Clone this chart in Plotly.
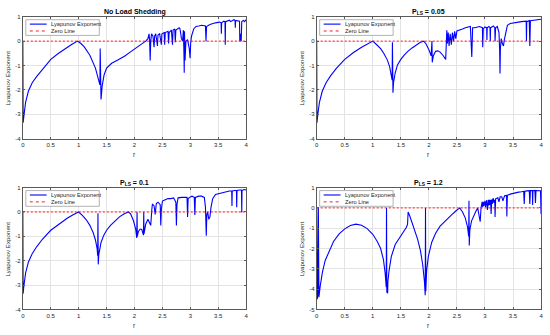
import plotly.graph_objects as go

# ---------------- data ----------------
r_nls = [0, 0.005, 0.02, 0.05, 0.1, 0.17, 0.25, 0.34, 0.5, 0.64, 0.76, 0.88, 0.98, 1.04, 1.1, 1.2, 1.3, 1.35,
         1.38, 1.385, 1.39, 1.40, 1.42, 1.456, 1.5, 1.59, 1.7, 1.82, 1.94, 2.06, 2.18, 2.2,
         2.24, 2.26, 2.27, 2.28, 2.29, 2.305, 2.33, 2.35, 2.36, 2.38, 2.41, 2.42, 2.45, 2.48, 2.49, 2.53, 2.54,
         2.55, 2.6, 2.61, 2.62, 2.66, 2.68, 2.69, 2.72, 2.73, 2.74, 2.8, 2.815, 2.84, 2.86, 2.875, 2.885, 2.89,
         2.895, 2.905, 2.92, 2.95, 2.98, 2.995, 3.005, 3.02, 3.06, 3.1, 3.15, 3.2, 3.27, 3.28, 3.29, 3.35, 3.45,
         3.52, 3.55, 3.555, 3.56, 3.6, 3.62, 3.625, 3.63, 3.7, 3.72, 3.78, 3.8, 3.805, 3.81, 3.88, 3.885, 3.9,
         3.91, 3.92, 3.95, 3.97, 4.0]
lam_nls = [0, -3.35, -3.05, -2.5, -2.05, -1.7, -1.45, -1.18, -0.75, -0.5, -0.3, -0.13, 0.0, -0.1, -0.24, -0.58,
           -1.11, -1.5, -1.8, -0.3, -2.0, -2.4, -1.85, -1.38, -1.11, -0.91, -0.78, -0.62, -0.42, -0.24, -0.04, 0.0,
           0.1, 0.3, 0.05, -0.8, 0.0, 0.3, 0.2, -0.25, 0.2, 0.3, -0.2, 0.25, 0.3, -0.15, 0.3, 0.35, -0.15,
           0.35, 0.4, -0.1, 0.35, 0.45, -0.15, 0.45, 0.5, -0.05, 0.45, 0.55, 0.5, 0.1, 0.0, 0.45, -0.5, -1.3,
           0.4, -0.8, 0.0, 0.05, -0.3, -0.7, -0.1, 0.2, 0.5, 0.6, 0.62, 0.65, 0.62, 0.0, 0.6, 0.68, 0.75,
           0.78, 0.75, 0.3, 0.75, 0.82, 0.8, -0.15, 0.8, 0.86, 0.8, 0.88, 0.85, 0.55, 0.85, 0.82, 0.0, 0.3,
           0.0, 0.8, 0.85, 0.8, 0.88]

r_p005 = [0, 0.005, 0.02, 0.05, 0.1, 0.17, 0.25, 0.35, 0.5, 0.65, 0.8, 0.9, 1.0, 1.07, 1.14, 1.2, 1.26, 1.3,
          1.33, 1.345, 1.35, 1.355, 1.36, 1.37, 1.4, 1.44, 1.5, 1.56, 1.62, 1.7, 1.79, 1.85, 1.91, 1.95, 2.0,
          2.04, 2.055, 2.06, 2.08, 2.12, 2.16, 2.2, 2.25, 2.3, 2.32, 2.33, 2.345, 2.36, 2.38, 2.4, 2.42, 2.44,
          2.46, 2.48, 2.5, 2.55, 2.6, 2.65, 2.7, 2.74, 2.765, 2.78, 2.82, 2.86, 2.9, 2.955, 2.96, 2.97, 3.0,
          3.03, 3.035, 3.04, 3.07, 3.09, 3.095, 3.1, 3.15, 3.175, 3.18, 3.19, 3.22, 3.25, 3.262, 3.268, 3.275,
          3.29, 3.31, 3.33, 3.345, 3.36, 3.38, 3.4, 3.45, 3.5, 3.55, 3.6, 3.65, 3.7, 3.735, 3.74, 3.745, 3.79,
          3.8, 3.81, 3.85, 3.9, 3.95, 4.0]
lam_p005 = [0, -3.35, -3.0, -2.5, -2.05, -1.7, -1.42, -1.12, -0.75, -0.48, -0.25, -0.11, 0.0, -0.15, -0.31,
            -0.52, -0.78, -1.05, -1.35, -1.6, -0.05, -1.9, -2.12, -1.7, -1.3, -0.98, -0.75, -0.58, -0.43, -0.28,
            -0.12, -0.05, 0.0, -0.12, -0.35, -0.6, 0.0, -0.87, -0.6, -0.42, -0.4, -0.45, -0.58, -0.75, 0.45,
            -0.1, 0.35, -0.2, 0.3, -0.15, 0.35, 0.0, 0.4, 0.1, 0.42, 0.45, 0.5, 0.55, 0.58, 0.6, -0.65, 0.55,
            0.55, 0.58, 0.6, 0.55, -0.25, 0.5, 0.58, 0.55, 0.05, 0.55, 0.6, 0.55, 0.0, 0.55, 0.62, 0.55, 0.0,
            0.55, 0.6, 0.35, -0.4, -1.33, -0.3, 0.1, -0.1, -0.2, 0.05, 0.25, 0.5, 0.65, 0.72, 0.75, 0.76, 0.78,
            0.8, 0.8, 0.82, 0.0, 0.8, 0.84, -0.2, 0.84, 0.85, 0.88, 0.9, 0.9]

r_p01 = [0, 0.005, 0.02, 0.05, 0.1, 0.17, 0.25, 0.35, 0.5, 0.65, 0.8, 0.9, 1.0, 1.07, 1.14, 1.2, 1.26, 1.3,
         1.33, 1.34, 1.345, 1.35, 1.36, 1.4, 1.45, 1.5, 1.57, 1.65, 1.73, 1.81, 1.89, 1.93, 1.98, 2.02, 2.04,
         2.045, 2.05, 2.07, 2.1, 2.13, 2.16, 2.165, 2.17, 2.2, 2.24, 2.27, 2.29, 2.31, 2.32, 2.35, 2.37, 2.39,
         2.42, 2.46, 2.47, 2.48, 2.5, 2.55, 2.6, 2.65, 2.7, 2.74, 2.75, 2.76, 2.78, 2.85, 2.9, 2.94, 2.95,
         2.96, 3.0, 3.03, 3.07, 3.08, 3.09, 3.15, 3.2, 3.25, 3.27, 3.285, 3.295, 3.31, 3.33, 3.35, 3.37, 3.4,
         3.45, 3.5, 3.55, 3.6, 3.65, 3.7, 3.74, 3.745, 3.75, 3.8, 3.825, 3.83, 3.835, 3.88, 3.915, 3.92,
         3.925, 3.96, 4.0]
lam_p01 = [0, -3.35, -3.0, -2.5, -2.05, -1.7, -1.42, -1.12, -0.75, -0.48, -0.25, -0.11, 0.0, -0.15, -0.33,
           -0.55, -0.85, -1.15, -1.5, -1.8, -0.05, -2.15, -1.75, -1.25, -0.95, -0.75, -0.55, -0.37, -0.2, -0.08,
           0.0, -0.08, -0.35, -0.7, -1.07, 0.0, -1.0, -0.8, -0.7, -0.72, -0.95, 0.0, -0.9, -0.5, -0.3, -0.45,
           -0.55, 0.1, 0.33, 0.25, -0.1, 0.35, 0.4, 0.3, -0.55, 0.1, 0.45, 0.5, 0.55, 0.55, 0.58, 0.4, -0.55,
           0.3, 0.58, 0.6, 0.6, 0.6, -0.2, 0.55, 0.62, 0.65, 0.6, -0.12, 0.6, 0.65, 0.65, 0.6, 0.2, -0.97,
           -0.1, 0.0, -0.3, -0.2, 0.2, 0.55, 0.72, 0.75, 0.75, 0.8, 0.82, 0.86, 0.86, 0.25, 0.86, 0.88, 0.88,
           0.19, 0.88, 0.9, 0.9, -0.02, 0.88, 0.92, 0.9]

r_p12 = [0, 0.01, 0.02, 0.03, 0.04, 0.06, 0.1, 0.15, 0.2, 0.3, 0.4, 0.5, 0.6, 0.7, 0.8, 0.9, 1.0, 1.08, 1.14,
         1.19, 1.22, 1.24, 1.245, 1.25, 1.265, 1.27, 1.29, 1.33, 1.4, 1.5, 1.56, 1.6, 1.62, 1.63, 1.66, 1.7,
         1.75, 1.8, 1.85, 1.89, 1.92, 1.935, 1.94, 1.945, 1.96, 1.99, 2.05, 2.12, 2.2, 2.3, 2.4, 2.48, 2.55,
         2.6, 2.65, 2.69, 2.71, 2.715, 2.72, 2.73, 2.76, 2.8, 2.84, 2.87, 2.9, 2.915, 2.93, 2.95, 2.96, 2.97,
         2.98, 2.99, 3.0, 3.01, 3.02, 3.03, 3.045, 3.06, 3.07, 3.08, 3.09, 3.1, 3.11, 3.12, 3.13, 3.14, 3.15,
         3.16, 3.175, 3.18, 3.19, 3.21, 3.23, 3.25, 3.27, 3.3, 3.32, 3.35, 3.385, 3.39, 3.4, 3.45, 3.5, 3.55,
         3.6, 3.65, 3.69, 3.7, 3.71, 3.75, 3.79, 3.8, 3.81, 3.845, 3.85, 3.855, 3.89, 3.9, 3.91, 3.95, 3.99,
         4.0]
lam_p12 = [0, -4.5, -4.3, 0.0, -4.4, -3.9, -3.2, -2.6, -2.25, -1.65, -1.28, -1.03, -0.87, -0.8, -0.85, -1.02,
           -1.3, -1.65, -2.0, -2.55, -3.2, -3.9, 0.0, -4.15, -4.2, -3.6, -3.1, -2.4, -1.8, -1.37, -1.15, -0.95,
           -0.8, -0.2, -0.4, -0.7, -1.1, -1.55, -2.1, -2.8, -3.6, -4.3, 0.0, -4.1, -3.1, -2.4, -1.7, -1.25,
           -0.9, -0.6, -0.35, -0.15, 0.0, -0.2, -0.5, -0.95, -1.4, 0.35, -1.85, -1.1, -0.65, -0.35, -0.15, 0.0,
           -0.4, -0.68, 0.0, 0.3, 0.05, 0.3, 0.1, 0.32, 0.35, 0.05, 0.35, 0.38, -0.1, 0.4, 0.12, 0.4, 0.15,
           0.4, -0.3, 0.42, 0.2, 0.44, 0.45, 0.25, 0.4, -0.45, 0.45, 0.48, 0.5, 0.3, 0.55, 0.55, 0.35, 0.6,
           0.62, -0.42, 0.62, 0.68, 0.72, 0.75, 0.78, 0.8, 0.82, 0.2, 0.82, 0.84, 0.85, 0.2, 0.85, 0.85, 0.15,
           0.85, 0.86, 0.25, 0.86, 0.85, 0.85, -0.3]

zero_r = [0, 4]
zero_val = [0, 0]

titles = ["<b>No Load Shedding</b>", "<b>P<sub>LS</sub> = 0.05</b>",
          "<b>P<sub>LS</sub> = 0.1</b>", "<b>P<sub>LS</sub> = 1.2</b>"]
x_tick_vals = [0, 0.5, 1, 1.5, 2, 2.5, 3, 3.5, 4]
x_tick_text = ["0", "0.5", "1", "1.5", "2", "2.5", "3", "3.5", "4"]
y_tick_vals_a = [-4, -3, -2, -1, 0, 1]
y_tick_text_a = ["-4", "-3", "-2", "-1", "0", "1"]
y_tick_vals_b = [-5, -4, -3, -2, -1, 0, 1]
y_tick_text_b = ["-5", "-4", "-3", "-2", "-1", "0", "1"]
legend_labels = ["Lyapunov Exponent", "Zero Line"]
x_label = "r"
y_label = "Lyapunov Exponent"

# ---------------- layout helpers (pixels -> paper) ----------------
W, H = 550, 335
def px(x):
    return x / W
def py(y):
    return 1 - y / H

FONT = "Liberation Sans, Arial, Helvetica, sans-serif"
TXT = "#262626"
AXC = "#5a5a5a"
GRID = "#e3e3e3"
BLUE = "#0000ff"
RED = "#ff0000"

# axes boxes in pixels: (left, top, right, bottom)
boxes = [(21, 14, 246, 138), (317, 14, 543, 138), (21, 188, 246, 312), (317, 188, 543, 312)]
series = [(r_nls, lam_nls), (r_p005, lam_p005), (r_p01, lam_p01), (r_p12, lam_p12)]
yticks = [(y_tick_vals_a, y_tick_text_a), (y_tick_vals_a, y_tick_text_a),
          (y_tick_vals_a, y_tick_text_a), (y_tick_vals_b, y_tick_text_b)]

fig = go.Figure()
layout = dict(width=W, height=H, margin=dict(l=0, r=0, t=0, b=0), paper_bgcolor="white",
              plot_bgcolor="white", showlegend=False, font=dict(family=FONT, color=TXT))
annotations = []
shapes = []

for i, ((L, T, R, B), (rr, ll), (tv, tt), title) in enumerate(zip(boxes, series, yticks, titles)):
    k = "" if i == 0 else str(i + 1)
    xa, ya = "x" + k, "y" + k
    fig.add_trace(go.Scatter(x=rr, y=ll, mode="lines", name=legend_labels[0], xaxis=xa, yaxis=ya,
                             line=dict(color=BLUE, width=1.1), hoverinfo="x+y"))
    fig.add_trace(go.Scatter(x=zero_r, y=zero_val, mode="lines", name=legend_labels[1], xaxis=xa, yaxis=ya,
                             line=dict(color=RED, width=0.9, dash="2px,2px"), hoverinfo="skip"))
    layout["xaxis" + k] = dict(domain=[px(L), px(R)], anchor=ya, range=[0, 4], tickvals=x_tick_vals,
                               ticktext=x_tick_text, showgrid=True, gridcolor=GRID, gridwidth=1,
                               zeroline=False, showline=True, linecolor=AXC, linewidth=1, mirror="ticks",
                               ticks="inside", ticklen=2, tickcolor=AXC,
                               tickfont=dict(size=6, color=TXT, family=FONT))
    layout["yaxis" + k] = dict(domain=[py(B), py(T)], anchor=xa, range=[tv[0], tv[-1]], tickvals=tv,
                               ticktext=tt, showgrid=True, gridcolor=GRID, gridwidth=1,
                               zeroline=False, showline=True, linecolor=AXC, linewidth=1, mirror="ticks",
                               ticks="inside", ticklen=2, tickcolor=AXC,
                               tickfont=dict(size=6, color=TXT, family=FONT))
    cx = (L + R) / 2
    annotations.append(dict(text=title, x=px(cx), y=py(T - 5), xref="paper", yref="paper",
                            xanchor="center", yanchor="middle", showarrow=False,
                            font=dict(size=7, color="#000000", family=FONT)))
    annotations.append(dict(text=x_label, x=px(cx), y=py(B + 16), xref="paper", yref="paper",
                            xanchor="center", yanchor="middle", showarrow=False,
                            font=dict(size=6.5, color=TXT, family=FONT)))
    annotations.append(dict(text=y_label, x=px(L - 15), y=py((T + B) / 2), xref="paper", yref="paper",
                            xanchor="center", yanchor="middle", textangle=-90, showarrow=False,
                            font=dict(size=6.2, color=TXT, family=FONT)))
    # legend (MATLAB-style compact box, northwest)
    lx, ly = L + 3, T + 3
    shapes.append(dict(type="rect", xref="paper", yref="paper", x0=px(lx), x1=px(lx + 74),
                       y0=py(ly + 16), y1=py(ly), line=dict(color="#a0a0a0", width=0.8),
                       fillcolor="white", layer="above"))
    for j, (lab, col, dash) in enumerate([(legend_labels[0], BLUE, "solid"), (legend_labels[1], RED, "dot")]):
        yy = ly + 4.5 + j * 7
        shapes.append(dict(type="line", xref="paper", yref="paper", x0=px(lx + 4), x1=px(lx + 21),
                           y0=py(yy), y1=py(yy), line=dict(color=col, width=1.1 if j == 0 else 0.9, dash=dash),
                           layer="above"))
        annotations.append(dict(text=lab, x=px(lx + 23), y=py(yy), xref="paper", yref="paper",
                                xanchor="left", yanchor="middle", showarrow=False,
                                font=dict(size=5.7, color=TXT, family=FONT)))

layout["annotations"] = annotations
layout["shapes"] = shapes
fig.update_layout(**layout)
fig.write_html("out.html", config={"displayModeBar": False},
               post_script="document.body.style.margin='0';document.body.style.overflow='hidden';")
